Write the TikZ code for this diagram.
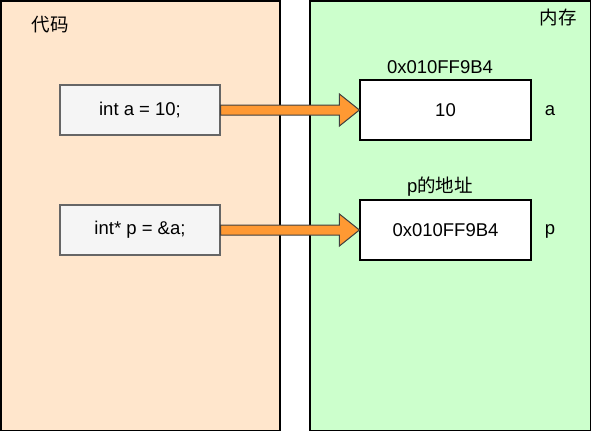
\documentclass[tikz,border=0pt]{standalone}
\usepackage{fontspec}
\setmainfont{Liberation Sans}
\newfontfamily\cjk{Noto Sans CJK SC}
\usepackage{tikz}
\usetikzlibrary{calc}
\definecolor{codebg}{HTML}{FFE6CC}
\definecolor{membg}{HTML}{CCFFCC}
\definecolor{stmtbg}{HTML}{F5F5F5}
\definecolor{stmtline}{HTML}{666666}
\definecolor{arrowfill}{HTML}{FF9933}

\begin{document}
\begin{tikzpicture}
[x=1pt,y=-1pt,
%%%%%%%%%%%%%%%%%%%%%%%%%%%%%%
panel/.style={rectangle,draw=black,line width=1.5pt},
stmt/.style={rectangle,draw=stmtline,fill=stmtbg,line width=1.2pt,minimum width=160pt,minimum height=50pt,font=\fontsize{18.5}{22}\selectfont},
cell/.style={rectangle,draw=black,fill=white,line width=1.2pt,minimum width=171pt,minimum height=60pt,font=\fontsize{18.5}{22}\selectfont},
txt/.style={font=\fontsize{18.5}{22}\selectfont,inner sep=0pt},
fat/.style={draw=black!75,fill=arrowfill,line width=1pt,line join=miter},
]%%%%%%%%%%%%%%%%%%%%%%%%%%%%%%
\useasboundingbox (0,0) rectangle (591,431);

\draw[panel,fill=codebg] (0.75,0.75) rectangle (280,430.25);
\draw[panel,fill=membg] (310,0.75) rectangle (590.25,430.25);
\node[txt] (codetitle) at (50,24.5){\cjk 代码};
\node[txt] (memtitle) at (558,17){\cjk 内存};

\node[stmt] (stmta) at (140,110){int a = 10;};
\node[stmt] (stmtp) at (140,230){int* p = \&a;};

\node[cell] (cella) at (445.5,110){10};
\node[cell] (cellp) at (445.5,230){0x010FF9B4};

\node[txt] (addra) at (440,67){0x010FF9B4};
\node[txt] (addrp) at (440,187){p{\cjk 的地址}};
\node[txt] (namea) at (550,111){a};
\node[txt] (namep) at (550,231){p};

\foreach \from/\to in {stmta/cella,stmtp/cellp}{
\draw[fat] ($(\from.east)+(0,-5)$) -- ($(\to.west)+(-20,-5)$) -- ($(\to.west)+(-20,-16)$)
 -- (\to.west) -- ($(\to.west)+(-20,16)$) -- ($(\to.west)+(-20,5)$) -- ($(\from.east)+(0,5)$) -- cycle;
}
\end{tikzpicture}
\end{document}
